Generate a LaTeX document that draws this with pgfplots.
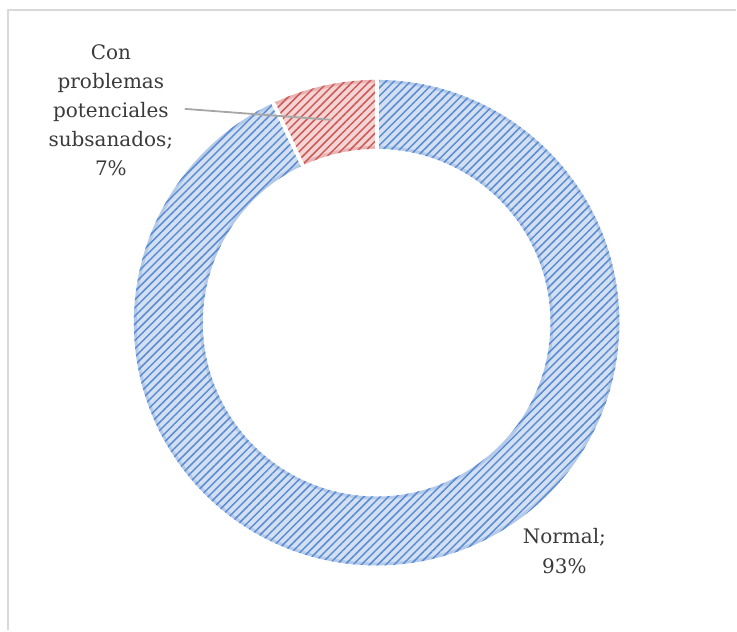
\documentclass[border=0pt]{standalone}
\usepackage{pgfplots}
\pgfplotsset{compat=1.18}
\usepackage{pgfplotstable}
\usepackage{fontspec}
\setmainfont{DejaVu Serif}
\usetikzlibrary{patterns.meta}
\definecolor{bfill}{HTML}{D3E0F3}
\definecolor{bline}{HTML}{5B8BD0}
\definecolor{rfill}{HTML}{F4D4D4}
\definecolor{rline}{HTML}{CC5A57}
\definecolor{txt}{HTML}{3A3A3A}
\definecolor{frame}{HTML}{D9D9D9}
\pgfplotstableread{
label value
Normal 93
Con 7
}\piedata
\begin{document}
\begin{tikzpicture}
\begin{axis}[x=1pt,y=1pt,xmin=0,xmax=737,ymin=0,ymax=631,hide axis,clip=false,
  scale only axis]
\path (axis cs:0,0) rectangle (axis cs:737,631);
% frame
\draw[frame,line width=1.5pt] (axis cs:8,0) -- (axis cs:8,621) -- (axis cs:737,621);
\pgfplotstablegetelem{0}{value}\of\piedata \let\va\pgfplotsretval
\pgfplotstablegetelem{1}{value}\of\piedata \let\vb\pgfplotsretval
\pgfmathsetmacro\aA{90}
\pgfmathsetmacro\aB{90-3.6*\va}
\pgfmathsetmacro\aC{\aB-3.6*\vb}
\coordinate (c) at (axis cs:377,308);
% blue segment
\fill[bfill] ([shift={(\aA:243pt)}]c) arc[start angle=\aA,end angle=\aB,radius=243pt]
  -- ([shift={(\aB:174pt)}]c) arc[start angle=\aB,end angle=\aA,radius=174pt] -- cycle;
\fill[pattern={Lines[angle=45,distance=5.8pt,line width=1.5pt]},pattern color=bline]
  ([shift={(\aA:243pt)}]c) arc[start angle=\aA,end angle=\aB,radius=243pt]
  -- ([shift={(\aB:174pt)}]c) arc[start angle=\aB,end angle=\aA,radius=174pt] -- cycle;
% red segment
\fill[rfill] ([shift={(\aB:243pt)}]c) arc[start angle=\aB,end angle=\aC,radius=243pt]
  -- ([shift={(\aC:174pt)}]c) arc[start angle=\aC,end angle=\aB,radius=174pt] -- cycle;
\fill[pattern={Lines[angle=45,distance=5.8pt,line width=1.5pt]},pattern color=rline]
  ([shift={(\aB:243pt)}]c) arc[start angle=\aB,end angle=\aC,radius=243pt]
  -- ([shift={(\aC:174pt)}]c) arc[start angle=\aC,end angle=\aB,radius=174pt] -- cycle;
% soft edge shading
\draw[bline,opacity=0.25,line width=3pt] ([shift={(\aA:241.5pt)}]c) arc[start angle=\aA,end angle=\aB,radius=241.5pt];
\draw[bline,opacity=0.25,line width=3pt] ([shift={(\aA:175.5pt)}]c) arc[start angle=\aA,end angle=\aB,radius=175.5pt];
\draw[rline,opacity=0.25,line width=3pt] ([shift={(\aB:241.5pt)}]c) arc[start angle=\aB,end angle=\aC,radius=241.5pt];
\draw[rline,opacity=0.25,line width=3pt] ([shift={(\aB:175.5pt)}]c) arc[start angle=\aB,end angle=\aC,radius=175.5pt];
% separators
\draw[white,line width=4pt] ([shift={(\aA:170pt)}]c) -- ([shift={(\aA:247pt)}]c);
\draw[white,line width=4pt] ([shift={(\aB:170pt)}]c) -- ([shift={(\aB:247pt)}]c);
% leader line
\draw[gray!70,line width=1.8pt] (axis cs:185,522) -- (axis cs:332,511);
% labels
\node[txt,align=center,font=\fontsize{20}{29}\selectfont,anchor=center] at (axis cs:111,521)
  {Con\\problemas\\potenciales\\subsanados;\\7\%};
\node[txt,align=center,font=\fontsize{20}{30}\selectfont,anchor=center] at (axis cs:565,79)
  {Normal;\\93\%};
\end{axis}
\end{tikzpicture}
\end{document}
